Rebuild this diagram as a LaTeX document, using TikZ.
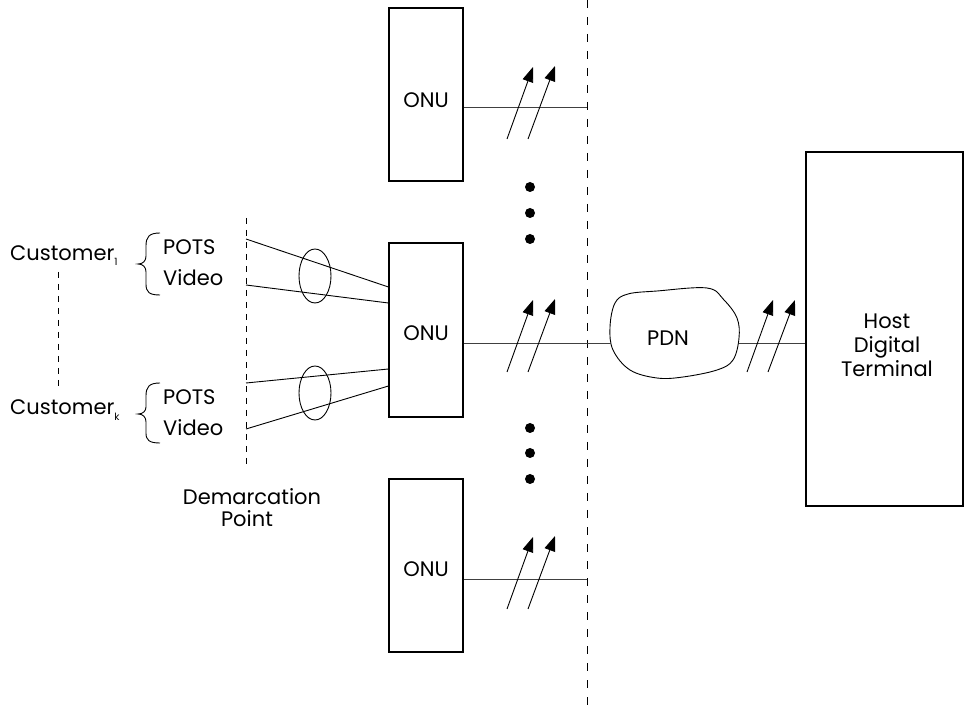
\documentclass[tikz,border=0pt]{standalone}
\usepackage{fontspec}
\setmainfont{Poppins}
\usetikzlibrary{arrows.meta,shapes.geometric}
\begin{document}
\begin{tikzpicture}[x=1pt,y=-1pt,
  box/.style={draw,line width=1.1pt,inner sep=0pt},
  lbl/.style={inner sep=0pt,font=\fontsize{21}{24}\selectfont},
  wire/.style={line width=1pt,draw=black!75},
  thin/.style={line width=0.9pt},
  dashv/.style={line width=0.9pt,dash pattern=on 8pt off 9pt},
  dashs/.style={line width=0.8pt,dash pattern=on 6pt off 6pt},
  sig/.style={line width=0.9pt,-{Triangle[length=15pt,width=11pt]}},
  dot/.style={circle,fill,inner sep=0pt,minimum size=10pt},
  loop/.style={draw,ellipse,line width=0.9pt,inner sep=0pt,minimum width=32pt,minimum height=54pt}
]
\useasboundingbox (0,0) rectangle (967,708);

% ONU boxes
\node[box,minimum width=74pt,minimum height=173pt] (onu1) at (426,94.5) {};
\node[box,minimum width=74pt,minimum height=174pt] (onu2) at (426,330) {};
\node[box,minimum width=74pt,minimum height=173pt] (onu3) at (426,565.5) {};
\node[lbl] (t1) at (426,100) {ONU};
\node[lbl] (t2) at (426,333) {ONU};
\node[lbl] (t3) at (426,569) {ONU};

% Host
\node[box,minimum width=157pt,minimum height=354pt] (host) at (884.5,329) {};
\node[lbl,align=center] (hostt) at (887,345) {Host\\[0pt] Digital\\[0pt]Terminal};

% main dashed line
\coordinate (dtop) at (587,0);
\coordinate (dbot) at (587,708);
\draw[dashv] (dtop) -- (dbot);

% feeder lines
\coordinate (j1) at (587,108);
\coordinate (j3) at (587,579);
\draw[wire] (onu1.east |- j1) -- (j1);
\draw[wire] (onu3.east |- j3) -- (j3);

% PDN cloud
\draw[thin] plot[smooth cycle,tension=0.6] coordinates {
 (615,303) (628,294) (657,291) (707,288) (724,300) (737,318) (739,338)
 (733,360) (717,370) (683,377) (657,378) (630,370) (613,350) (610,327)};
\node[lbl] (pdn) at (668,338) {PDN};
\coordinate (pdnw) at (611,344);
\coordinate (pdne) at (739,344);
\draw[wire] (onu2.east |- pdnw) -- (pdnw);
\draw[wire] (pdne) -- (host.west |- pdne);

% arrow pairs
\coordinate (a1s) at (507,139); \coordinate (a1e) at (533,67);
\coordinate (a2s) at (528,139); \coordinate (a2e) at (555,66);
\draw[sig] (a1s) -- (a1e); \draw[sig] (a2s) -- (a2e);
\coordinate (b1s) at (507,372); \coordinate (b1e) at (533,300);
\coordinate (b2s) at (528,372); \coordinate (b2e) at (555,299);
\draw[sig] (b1s) -- (b1e); \draw[sig] (b2s) -- (b2e);
\coordinate (c1s) at (507,609); \coordinate (c1e) at (533,537);
\coordinate (c2s) at (528,609); \coordinate (c2e) at (555,536);
\draw[sig] (c1s) -- (c1e); \draw[sig] (c2s) -- (c2e);
\coordinate (h1s) at (747,372); \coordinate (h1e) at (773,300);
\coordinate (h2s) at (768,372); \coordinate (h2e) at (795,300);
\draw[sig] (h1s) -- (h1e); \draw[sig] (h2s) -- (h2e);

% dots
\node[dot] (d1) at (530,187) {};
\node[dot] (d2) at (530,213) {};
\node[dot] (d3) at (530,239) {};
\node[dot] (d4) at (530,428) {};
\node[dot] (d5) at (530,453) {};
\node[dot] (d6) at (530,479) {};

% demarcation line
\coordinate (mtop) at (246,218);
\coordinate (mbot) at (246,468);
\draw[dashs] (mtop) -- (mbot);
\node[lbl,align=center] (demark) at (252,508) {Demarcation\\[-2pt]\hspace*{-10pt}Point};

% customer lines
\coordinate (l1) at (246,239);
\coordinate (l2) at (246,285);
\coordinate (l3) at (246,383);
\coordinate (l4) at (246,429);
\draw[thin] (l1) -- ([yshift=43pt]onu2.west);
\draw[thin] (l2) -- ([yshift=27pt]onu2.west);
\draw[thin] (l3) -- ([yshift=-39pt]onu2.west);
\draw[thin] (l4) -- ([yshift=-56pt]onu2.west);
\node[loop] (e1) at (315,276) {};
\node[loop] (e2) at (315,393) {};

% customers
\node[lbl,anchor=west] (c1) at (10,256) {Customer\raisebox{-5pt}{\fontsize{10}{10}\selectfont 1}};
\node[lbl,anchor=west] (ck) at (10,410) {Customer\raisebox{-6pt}{\fontsize{10}{10}\selectfont k}};
\coordinate (cd1) at (58,272);
\coordinate (cd2) at (58,390);
\draw[dashs] (cd1) -- (cd2);

% services
\node[lbl,anchor=west] (p1) at (163,247) {POTS};
\node[lbl,anchor=west] (v1) at (163,278) {Video};
\node[lbl,anchor=west] (p2) at (163,397) {POTS};
\node[lbl,anchor=west] (v2) at (163,428) {Video};

% braces
\draw[thin] (160,233) .. controls (149,233) and (146,237) .. (146,246) -- (146,256)
  .. controls (146,261) and (143,264) .. (138,264)
  .. controls (143,264) and (146,267) .. (146,272) -- (146,284)
  .. controls (146,292) and (149,295) .. (160,295);
\draw[thin] (160,383) .. controls (149,383) and (146,387) .. (146,396) -- (146,407)
  .. controls (146,411) and (143,414) .. (138,414)
  .. controls (143,414) and (146,417) .. (146,422) -- (146,433)
  .. controls (146,440) and (149,443) .. (160,443);
\end{tikzpicture}
\end{document}
